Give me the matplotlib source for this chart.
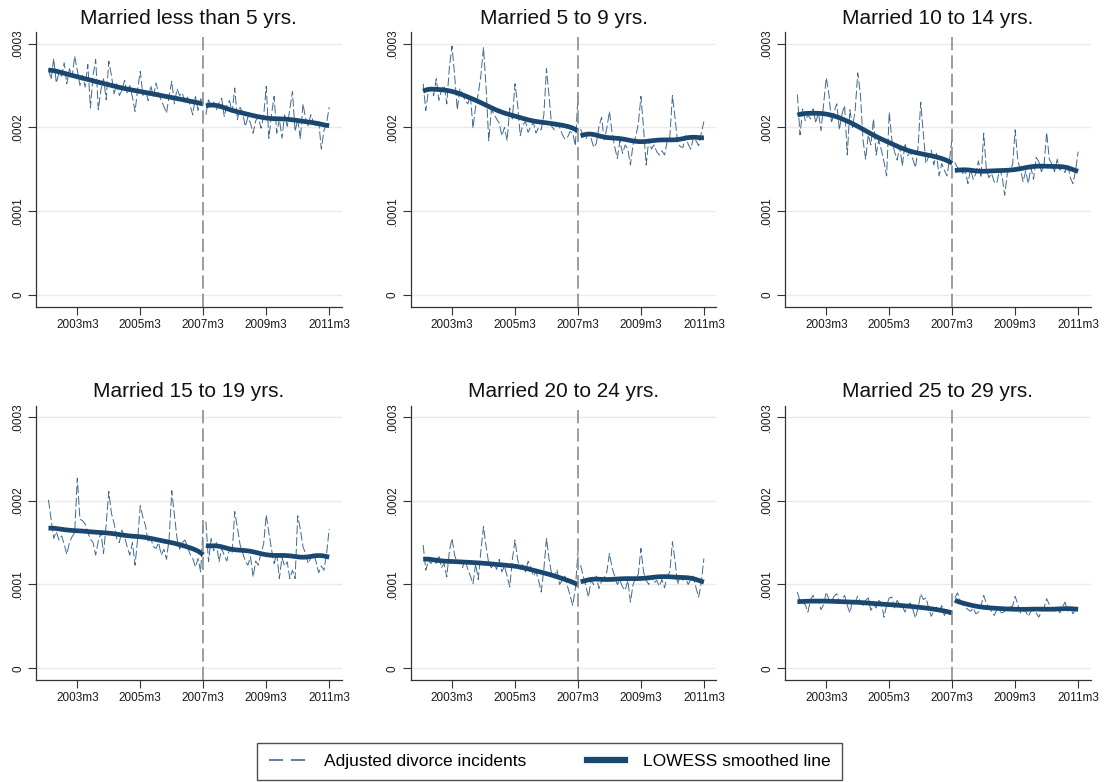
import numpy as np
import matplotlib.pyplot as plt
from matplotlib.lines import Line2D
from matplotlib.ticker import FuncFormatter

plt.rcParams['font.family'] = ['Liberation Sans', 'DejaVu Sans']

titles = ['Married less than 5 yrs.', 'Married 5 to 9 yrs.', 'Married 10 to 14 yrs.',
          'Married 15 to 19 yrs.', 'Married 20 to 24 yrs.', 'Married 25 to 29 yrs.']

# monthly adjusted divorce incidents, units of 1e-6
# pre: 2002m4 - 2007m3 (60 months), post: 2007m4 - 2011m3 (48 months)
p1_pre = [270, 257, 282, 253, 265, 261, 277, 252, 270, 260, 285, 268,
          250, 262, 248, 275, 223, 262, 281, 221, 245, 258, 233, 279,
          262, 240, 252, 238, 244, 256, 241, 250, 236, 219, 246, 267,
          238, 244, 232, 250, 236, 253, 240, 232, 225, 217, 238, 255,
          228, 246, 238, 241, 231, 236, 226, 215, 237, 220, 234, 230]
p1_post = [215, 233, 225, 230, 221, 229, 235, 213, 226, 232, 218, 247,
           209, 224, 218, 201, 212, 205, 193, 208, 212, 199, 213, 249,
           187, 215, 237, 193, 210, 187, 215, 201, 222, 243, 195, 210,
           186, 228, 211, 202, 215, 206, 202, 207, 174, 196, 205, 224]

p2_pre = [252, 220, 244, 248, 238, 258, 232, 245, 250, 228, 272, 297,
          262, 221, 246, 240, 232, 228, 238, 199, 225, 240, 262, 295,
          247, 184, 221, 216, 210, 205, 190, 200, 184, 223, 210, 252,
          227, 190, 203, 207, 194, 201, 206, 193, 200, 197, 215, 270,
          237, 201, 197, 204, 200, 192, 186, 188, 195, 193, 178, 237]
p2_post = [198, 190, 186, 193, 187, 176, 181, 201, 212, 185, 199, 219,
           194, 177, 163, 184, 169, 179, 174, 155, 180, 189, 204, 237,
           199, 155, 186, 174, 179, 171, 167, 172, 167, 183, 188, 238,
           211, 182, 177, 176, 190, 180, 174, 188, 184, 178, 193, 207]

p3_pre = [239, 191, 222, 208, 215, 210, 222, 205, 218, 196, 228, 259,
          240, 205, 219, 228, 197, 216, 226, 167, 221, 200, 220, 265,
          240, 185, 162, 191, 179, 210, 167, 185, 173, 159, 142, 218,
          185, 171, 161, 177, 154, 181, 166, 171, 162, 152, 177, 230,
          192, 157, 165, 173, 155, 169, 142, 157, 149, 142, 162, 188]
p3_post = [158, 152, 150, 145, 148, 133, 150, 138, 145, 160, 140, 193,
           150, 140, 145, 135, 133, 150, 142, 119, 145, 150, 155, 197,
           160, 150, 135, 148, 133, 152, 138, 164, 159, 147, 155, 194,
           162, 156, 147, 162, 149, 152, 146, 156, 140, 133, 148, 171]

p4_pre = [201, 178, 155, 163, 153, 158, 148, 136, 150, 157, 162, 227,
          178, 176, 172, 162, 154, 150, 135, 152, 162, 137, 172, 211,
          185, 173, 155, 150, 165, 157, 145, 135, 150, 123, 155, 194,
          180, 170, 150, 155, 145, 143, 150, 135, 142, 130, 155, 212,
          183, 155, 142, 150, 153, 145, 136, 131, 121, 131, 115, 173]
p4_post = [175, 127, 155, 140, 150, 127, 143, 135, 128, 143, 137, 187,
           168, 148, 138, 128, 123, 133, 109, 128, 123, 138, 148, 183,
           162, 142, 125, 137, 107, 132, 122, 127, 107, 117, 107, 182,
           166, 145, 137, 125, 132, 137, 127, 114, 122, 117, 137, 166]

p5_pre = [147, 117, 128, 125, 130, 125, 135, 120, 125, 109, 140, 155,
          135, 125, 128, 120, 130, 118, 110, 101, 125, 106, 140, 169,
          145, 125, 120, 125, 118, 130, 115, 122, 110, 97, 130, 153,
          130, 118, 125, 115, 128, 120, 110, 115, 105, 91, 118, 155,
          130, 112, 108, 118, 100, 105, 110, 98, 87, 75, 95, 139]
p5_post = [123, 110, 98, 85, 105, 100, 110, 95, 104, 108, 115, 137,
           120, 110, 100, 105, 97, 93, 105, 79, 100, 108, 112, 143,
           115, 105, 100, 110, 102, 105, 98, 106, 96, 110, 115, 151,
           128, 100, 112, 105, 108, 100, 106, 110, 96, 85, 102, 131]

p6_pre = [91, 80, 78, 76, 67, 82, 87, 78, 80, 70, 76, 91,
          82, 80, 86, 89, 78, 82, 87, 75, 66, 81, 79, 86,
          80, 75, 81, 84, 69, 76, 72, 81, 78, 61, 75, 84,
          85, 72, 81, 76, 74, 67, 75, 78, 70, 60, 72, 89,
          82, 84, 72, 62, 68, 73, 66, 75, 63, 69, 64, 66]
p6_post = [84, 90, 81, 76, 73, 70, 68, 72, 65, 67, 75, 87,
           78, 72, 68, 63, 70, 68, 66, 68, 71, 73, 74, 86,
           76, 66, 71, 68, 62, 68, 70, 66, 61, 68, 72, 83,
           76, 70, 68, 72, 66, 73, 79, 68, 73, 65, 70, 73]

pre_series = [p1_pre, p2_pre, p3_pre, p4_pre, p5_pre, p6_pre]
post_series = [p1_post, p2_post, p3_post, p4_post, p5_post, p6_post]

tick_labels = ['2003m3', '2005m3', '2007m3', '2009m3', '2011m3']
y_ticks = [0, 0.0001, 0.0002, 0.0003]
break_label = '2007m3'


def month_index(lbl):
    # months since 2002m4
    y, m = lbl.split('m')
    return (int(y) - 2002) * 12 + int(m) - 4


def lowess(x, y, bw=0.8):
    # stata-style lowess, running-line, tricube weights, no robust iterations
    n = len(x)
    k = int(np.floor((n * bw - 0.5) / 2))
    out = np.empty(n)
    for i in range(n):
        lo = max(0, i - k)
        hi = min(n - 1, i + k)
        xs = x[lo:hi + 1]
        ys = y[lo:hi + 1]
        d = 1.0001 * max(x[hi] - x[i], x[i] - x[lo])
        w = (1 - (np.abs(xs - x[i]) / d) ** 3) ** 3
        W = w.sum()
        xm = (w * xs).sum() / W
        ym = (w * ys).sum() / W
        b = (w * (xs - xm) * (ys - ym)).sum() / (w * (xs - xm) ** 2).sum()
        out[i] = ym + b * (x[i] - xm)
    return out


def fmt(v, pos):
    if abs(v) < 1e-12:
        return '0'
    return ('%.4f' % v).lstrip('0')


raw_col = '#3f6890'
smooth_col = '#1a476f'

fig = plt.figure(figsize=(11.04, 7.82), dpi=100)
lefts = [0.0326, 0.372, 0.711]
bottoms = [0.6078, 0.1304]
w = 0.277
h = 0.351

x_break = month_index(break_label)
for idx in range(6):
    r, c = divmod(idx, 3)
    ax = fig.add_axes([lefts[c], bottoms[r], w, h])
    pre = np.array(pre_series[idx]) * 1e-6
    post = np.array(post_series[idx]) * 1e-6
    x_pre = np.arange(month_index('2002m4'), month_index('2002m4') + len(pre))
    x_post = np.arange(x_pre[-1] + 1, x_pre[-1] + 1 + len(post))

    ax.plot(x_pre, pre, color=raw_col, lw=0.7, dashes=(9, 3), zorder=2)
    ax.plot(x_post, post, color=raw_col, lw=0.7, dashes=(9, 3), zorder=2)
    ax.plot(x_pre, lowess(x_pre.astype(float), pre), color=smooth_col, lw=3.4,
            solid_capstyle='butt', zorder=3)
    ax.plot(x_post, lowess(x_post.astype(float), post), color=smooth_col, lw=3.4,
            solid_capstyle='butt', zorder=3)
    ax.axvline(x_break, color='#8c8c8c', lw=1.2, dashes=(8, 3), zorder=4)

    ax.set_xlim(-4.75, 111.8)
    ax.set_ylim(-0.000014, 0.0003135)
    ax.set_xticks([month_index(t) for t in tick_labels])
    ax.set_xticklabels(tick_labels)
    ax.set_yticks(y_ticks)
    ax.yaxis.set_major_formatter(FuncFormatter(fmt))
    for t in ax.get_yticklabels():
        t.set_rotation(90)
        t.set_va('center')
    ax.tick_params(axis='both', labelsize=8.5, length=5.5, width=0.8,
                   color='#333333', labelcolor='#1a1a1a', pad=3)
    ax.yaxis.grid(True, color='#eaeaea', lw=1.0)
    ax.set_axisbelow(True)
    for s in ['top', 'right']:
        ax.spines[s].set_visible(False)
    for s in ['left', 'bottom']:
        ax.spines[s].set_color('#333333')
        ax.spines[s].set_linewidth(0.9)
    ax.set_title(titles[idx], fontsize=15, color='#111111', pad=6)

handles = [Line2D([], [], color=raw_col, lw=1.2, dashes=(8.4, 4.8)),
           Line2D([], [], color=smooth_col, lw=4.5)]
leg = fig.legend(handles, ['Adjusted divorce incidents', 'LOWESS smoothed line'],
                 loc='lower center', bbox_to_anchor=(0.4977, 0.0), ncol=2,
                 fontsize=12.5, frameon=True, fancybox=False, borderaxespad=0.1,
                 handlelength=2.2, handletextpad=1.0, columnspacing=3.5, borderpad=0.65)
leg.get_frame().set_edgecolor('#222222')
leg.get_frame().set_linewidth(1.0)

fig.savefig('out.png', dpi=100)
